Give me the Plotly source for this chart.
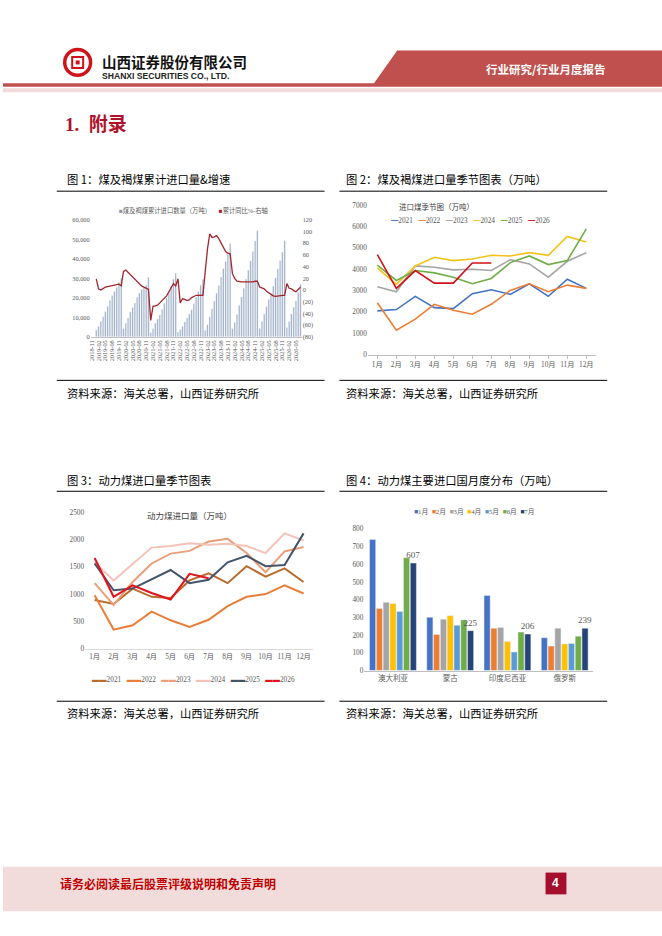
import plotly.graph_objects as go

W, H = 662, 936
SERIF = "Liberation Serif, Noto Sans CJK SC"
SANS = "Noto Sans CJK SC"
AXIS_GRAY = "#595959"


def px(x):
    return x / W


def py(y):
    return 1 - y / H


# ---------------- 图1：煤及褐煤累计进口量&增速 ----------------
months_c1 = [f"{y}-{m:02d}" for y in range(2018, 2027) for m in range(1, 13)][10:103]
cum_import = [None, None,
              3400, 5300, 7800, 10300, 12800, 15500, 18600, 21000, 23300, 25300, 27800, 30000,
              4100, 7000, 9600, 12700, 14900, 17300, 20300, 22400, 24300, 25000, 26500, 30400,
              2050, 4150, 6880, 9080, 11230, 14080, 17120, 19940, 23250, 25980, 29510, 32610,
              2430, 3580, 5230, 7590, 9660, 11550, 13910, 16910, 20230, 23170, 26420, 29520,
              3180, 6120, 10270, 14360, 18320, 22320, 26250, 30700, 34940, 38570, 42930, 47700,
              4060, 7340, 11490, 16050, 20450, 24920, 29570, 34190, 38960, 43600, 49130, 54400,
              4180, 7650, 11590, 15410, 19040, 22350, 25910, 30220, 34840, 39050, 43450, 49330,
              4680, 7780, 11710, 15060, 18400, 22700, 26990]
cum_yoy = [None, None,
           19, 2, 0, 3, 5, 6, 7, 8, 9, 9, 10, 7,
           32, 34, 30, 27, 23, 18, 14, 10, 7, 5, 3, 1,
           -52, -28, -27, -26, -22, -18, -14, -10, -3, 3, 11, 7,
           19, -22, -15, -16, -18, -17, -13, -11, -9, -9, -9, -9,
           31, 70, 96, 90, 91, 93, 88, 81, 72, 66, 63, 62,
           28, 20, 15, 14, 14, 14, 14, 13, 13, 14, 15, 15,
           5, 4, 2, -2, -5, -8, -10, -11, -10, -9, -9, -9,
           11, 3, 2, -1, -3, 1, 5]
c1_names = ["煤及褐煤累计进口数量（万吨）", "累计同比%-右轴"]
c1_colors = ["#8596B0", "#A3262C"]
yoy_ticks = [-80, -60, -40, -20, 0, 20, 40, 60, 80, 100, 120]
yoy_ticktext = [f"({-v})" if v < 0 else str(v) for v in yoy_ticks]

# ---------------- 图2：煤及褐煤进口量季节图表 ----------------
month_cn = [f"{i}月" for i in range(1, 13)]
years = ["2021", "2022", "2023", "2024", "2025", "2026"]
c2_colors = ["#4472C4", "#ED7D31", "#A5A5A5", "#F2C21B", "#70AD47", "#D0101B"]
imp_2021 = [2045, 2107, 2726, 2200, 2153, 2850, 3036, 2820, 3315, 2726, 3531, 3100]
imp_2022 = [2430, 1146, 1657, 2354, 2075, 1890, 2354, 3005, 3315, 2943, 3253, 3100]
imp_2023 = [3175, 2943, 4151, 4089, 3965, 3996, 3934, 4445, 4244, 3624, 4368, 4771]
imp_2024 = [4058, 3284, 4151, 4554, 4399, 4476, 4647, 4616, 4771, 4647, 5530, 5267]
imp_2025 = [4182, 3470, 3934, 3826, 3624, 3315, 3563, 4306, 4616, 4213, 4399, 5886]
imp_2026 = [4678, 3100, 3934, 3346, 3346, 4291, 4291]
c2_series = [imp_2021, imp_2022, imp_2023, imp_2024, imp_2025, imp_2026]

# ---------------- 图3：动力煤进口量季节图表 ----------------
c3_colors = ["#BC6B2E", "#E97E3A", "#EA9F78", "#F4C3B6", "#44546A", "#E3121C"]
th_2021 = [890, 820, 1100, 950, 930, 1250, 1380, 1200, 1510, 1320, 1470, 1220]
th_2022 = [980, 350, 430, 680, 520, 400, 530, 780, 950, 1000, 1160, 1010]
th_2023 = [1200, 800, 1220, 1560, 1740, 1790, 1960, 2010, 1750, 1400, 1780, 1860]
th_2024 = [1580, 1250, 1550, 1850, 1880, 1930, 1900, 1920, 1880, 1750, 2110, 1980]
th_2025 = [1560, 1070, 1100, 1270, 1440, 1200, 1260, 1580, 1700, 1510, 1530, 2110]
th_2026 = [1660, 950, 1160, 1020, 900, 1370, 1290]
c3_series = [th_2021, th_2022, th_2023, th_2024, th_2025, th_2026]

# ---------------- 图4：动力煤主要进口国月度分布 ----------------
countries = ["澳大利亚", "蒙古", "印度尼西亚", "俄罗斯"]
bar_months = ["1月", "2月", "3月", "4月", "5月", "6月", "7月"]
c4_colors = ["#4472C4", "#ED7D31", "#A5A5A5", "#FFC000", "#5B9BD5", "#70AD47", "#264478"]
by_month = [
    [740, 301, 424, 185],
    [351, 204, 239, 138],
    [385, 290, 243, 239],
    [379, 310, 164, 150],
    [333, 256, 105, 153],
    [637, 286, 217, 194],
    [607, 225, 206, 239],
]

fig = go.Figure()

# chart 1
fig.add_trace(go.Bar(x=months_c1, y=cum_import, name=c1_names[0], marker_color=c1_colors[0],
                     width=0.55, xaxis="x", yaxis="y", showlegend=False))
fig.add_trace(go.Scatter(x=months_c1, y=cum_yoy, name=c1_names[1], mode="lines",
                         line=dict(color=c1_colors[1], width=1.3), connectgaps=False,
                         xaxis="x", yaxis="y2", showlegend=False))

# chart 2
for name, vals, col in zip(years, c2_series, c2_colors):
    fig.add_trace(go.Scatter(x=month_cn[:len(vals)], y=vals, name=name, mode="lines",
                             line=dict(color=col, width=1.6), xaxis="x2", yaxis="y3",
                             showlegend=False))

# chart 3
for name, vals, col in zip(years, c3_series, c3_colors):
    fig.add_trace(go.Scatter(x=month_cn[:len(vals)], y=vals, name=name, mode="lines",
                             line=dict(color=col, width=2.0), xaxis="x3", yaxis="y4",
                             showlegend=False))

# chart 4, only the July bars carry value labels
for i, (name, vals, col) in enumerate(zip(bar_months, by_month, c4_colors)):
    last = i == len(bar_months) - 1
    fig.add_trace(go.Bar(x=countries, y=vals, name=name, marker_color=col,
                         xaxis="x4", yaxis="y5", showlegend=False,
                         texttemplate="%{y}" if last else None,
                         textposition="outside" if last else "none",
                         constraintext="none",
                         textfont=dict(family=SERIF, size=9, color=AXIS_GRAY),
                         cliponaxis=False))

tick_small = dict(family=SERIF, size=6.3, color=AXIS_GRAY)
tick_mid = dict(family=SERIF, size=7.3, color=AXIS_GRAY)

fig.update_layout(
    width=W, height=H, autosize=False,
    margin=dict(l=0, r=0, t=0, b=0),
    paper_bgcolor="white", plot_bgcolor="rgba(0,0,0,0)",
    barmode="group", bargap=0.17, bargroupgap=0.1,
    font=dict(family=SANS, color="#000000"),
    xaxis=dict(domain=[px(88), px(300)], anchor="y", type="category",
               categoryorder="array", categoryarray=months_c1,
               tickvals=months_c1[::3], tickangle=-90, tickfont=tick_small,
               showline=True, linecolor="#BFBFBF", linewidth=1, showgrid=False,
               ticks="", range=[-0.5, len(months_c1) - 0.5]),
    yaxis=dict(domain=[py(336), py(218)], anchor="x", range=[0, 60000],
               tickvals=list(range(0, 60001, 10000)), tickformat=",",
               tickfont=tick_small, showgrid=False, zeroline=False, ticks=""),
    yaxis2=dict(overlaying="y", side="right", anchor="x", range=[-80, 120],
                tickvals=yoy_ticks, ticktext=yoy_ticktext, tickfont=tick_small,
                showgrid=False, zeroline=False, ticks=""),
    xaxis2=dict(domain=[px(366.5), px(595.5)], anchor="y3", type="category",
                categoryorder="array", categoryarray=month_cn, tickfont=tick_mid,
                showline=True, linecolor="#BFBFBF", linewidth=1, showgrid=False,
                ticks="outside", ticklen=3, tickcolor="#BFBFBF", range=[-0.5, 11.5]),
    yaxis3=dict(domain=[py(354), py(203)], anchor="x2", range=[0, 7000], dtick=1000,
                tickfont=tick_mid, showgrid=False, zeroline=False, ticks=""),
    xaxis3=dict(domain=[px(82.5), px(311.5)], anchor="y4", type="category",
                categoryorder="array", categoryarray=month_cn, tickfont=tick_mid,
                showline=True, linecolor="#D9D9D9", linewidth=1, showgrid=False,
                ticks="", range=[-0.5, 11.5]),
    yaxis4=dict(domain=[py(651), py(513)], anchor="x3", range=[0, 2500], dtick=500,
                tickfont=tick_mid, showgrid=False, zeroline=False, ticks=""),
    xaxis4=dict(domain=[px(363), px(593)], anchor="y5", type="category",
                tickfont=dict(family=SANS, size=7.5, color=AXIS_GRAY),
                showline=True, linecolor="#BFBFBF", linewidth=1, showgrid=False, ticks=""),
    yaxis5=dict(domain=[py(673), py(530)], anchor="x4", range=[0, 800], dtick=100,
                tickfont=tick_mid, showgrid=False, zeroline=False, ticks=""),
)

NB = "\u00a0"
annotations = []


def note(x, y, text, size, color="#000000", family=SANS, xanchor="left", bold=False):
    if bold:
        text = f"<b>{text}</b>"
    annotations.append(dict(x=px(x), y=py(y), xref="paper", yref="paper", text=text,
                            showarrow=False, xanchor=xanchor, yanchor="middle",
                            font=dict(size=size, color=color, family=family)))


def legend_text(names, colors, glyph, gap):
    parts = [f"<span style='color:{c}'>{glyph}</span>{n}" for n, c in zip(names, colors)]
    return (NB * gap).join(parts)


# header
note(97, 58, "山西证券股份有限公司", 14.5, "#111111", SANS, bold=True)
note(97, 73, "SHANXI SECURITIES CO., LTD.", 8.6, "#222222", "Liberation Sans", bold=True)
note(545, 66, "行业研究/行业月度报告", 11.5, "#FFFFFF", SANS, xanchor="center", bold=True)
note(60, 122, "1.  附录", 19, "#B0122A", SERIF, bold=True)

# captions and sources
caps = [(62, 177, "图 1：煤及褐煤累计进口量&增速"), (343, 177, "图 2：煤及褐煤进口量季节图表（万吨）"),
        (62, 481, "图 3：动力煤进口量季节图表"), (343, 481, "图 4：动力煤主要进口国月度分布（万吨）")]
for x, y, t in caps:
    note(x, y, t, 11.3)
for x, y in [(62, 393), (343, 393), (62, 716), (343, 716)]:
    note(x, y, "资料来源：海关总署，山西证券研究所", 11.3)

# chart titles and legends
note(435, 204, "进口煤季节图（万吨）", 7.5, "#404040", SANS, xanchor="center")
note(187, 516, "动力煤进口量（万吨）", 8.5, "#404040", SANS, xanchor="center")
note(191, 208, legend_text(c1_names, c1_colors, "■", 5), 6.3, AXIS_GRAY, SERIF, xanchor="center")
note(470, 219, legend_text(years, c2_colors, "━", 3), 7.3, AXIS_GRAY, SERIF, xanchor="center")
note(191, 682, legend_text(years, c3_colors, "▬▬", 3), 7.3, AXIS_GRAY, SERIF, xanchor="center")
note(474, 513, legend_text(bar_months, c4_colors, "■", 2), 6.8, AXIS_GRAY, SERIF, xanchor="center")

# footer
note(55, 888, "请务必阅读最后股票评级说明和免责声明", 12, "#C00000", SANS, bold=True)
note(555.5, 888, "4", 12, "#FFFFFF", "Liberation Sans", xanchor="center", bold=True)

fig.update_layout(annotations=annotations)

shapes = []


def rect(x0, y0, x1, y1, color):
    shapes.append(dict(type="rect", xref="paper", yref="paper", x0=px(x0), x1=px(x1),
                       y0=py(y1), y1=py(y0), fillcolor=color, line=dict(width=0), layer="below"))


def hline(x0, x1, y, color="#000000", width=1):
    shapes.append(dict(type="line", xref="paper", yref="paper", x0=px(x0), x1=px(x1),
                       y0=py(y), y1=py(y), line=dict(color=color, width=width)))


# header banner and rules
shapes.append(dict(type="path", xref="paper", yref="paper",
                   path=f"M {px(396)} {py(47)} L {px(662)} {py(47)} L {px(662)} {py(81)} L {px(372)} {py(81)} Z",
                   fillcolor="#C0504D", line=dict(width=0), layer="below"))
rect(0, 80, 662, 83.5, "#C0504D")
rect(0, 85, 662, 89, "#F2DCDB")

# logo
shapes.append(dict(type="circle", xref="paper", yref="paper", x0=px(62), x1=px(88),
                   y0=py(72), y1=py(46), line=dict(color="#D0121B", width=3.5),
                   fillcolor="white"))
shapes.append(dict(type="rect", xref="paper", yref="paper", x0=px(69.5), x1=px(80.5),
                   y0=py(64.5), y1=py(53.5), line=dict(color="#D0121B", width=2),
                   fillcolor="white"))
shapes.append(dict(type="rect", xref="paper", yref="paper", x0=px(73), x1=px(77),
                   y0=py(61), y1=py(57), line=dict(width=0), fillcolor="#D0121B"))

# caption rules
for x0, x1 in [(54, 323), (338, 607)]:
    hline(x0, x1, 189)
    hline(x0, x1, 380)
    hline(x0, x1, 492)
    hline(x0, x1, 704)

# footer band and page box
rect(0, 871, 662, 916, "#F2DCDB")
rect(545, 877, 566, 899, "#A50F2D")

fig.update_layout(shapes=shapes)

fig.write_html("out.html", config={"displayModeBar": False},
               post_script="document.body.style.margin='0';")
